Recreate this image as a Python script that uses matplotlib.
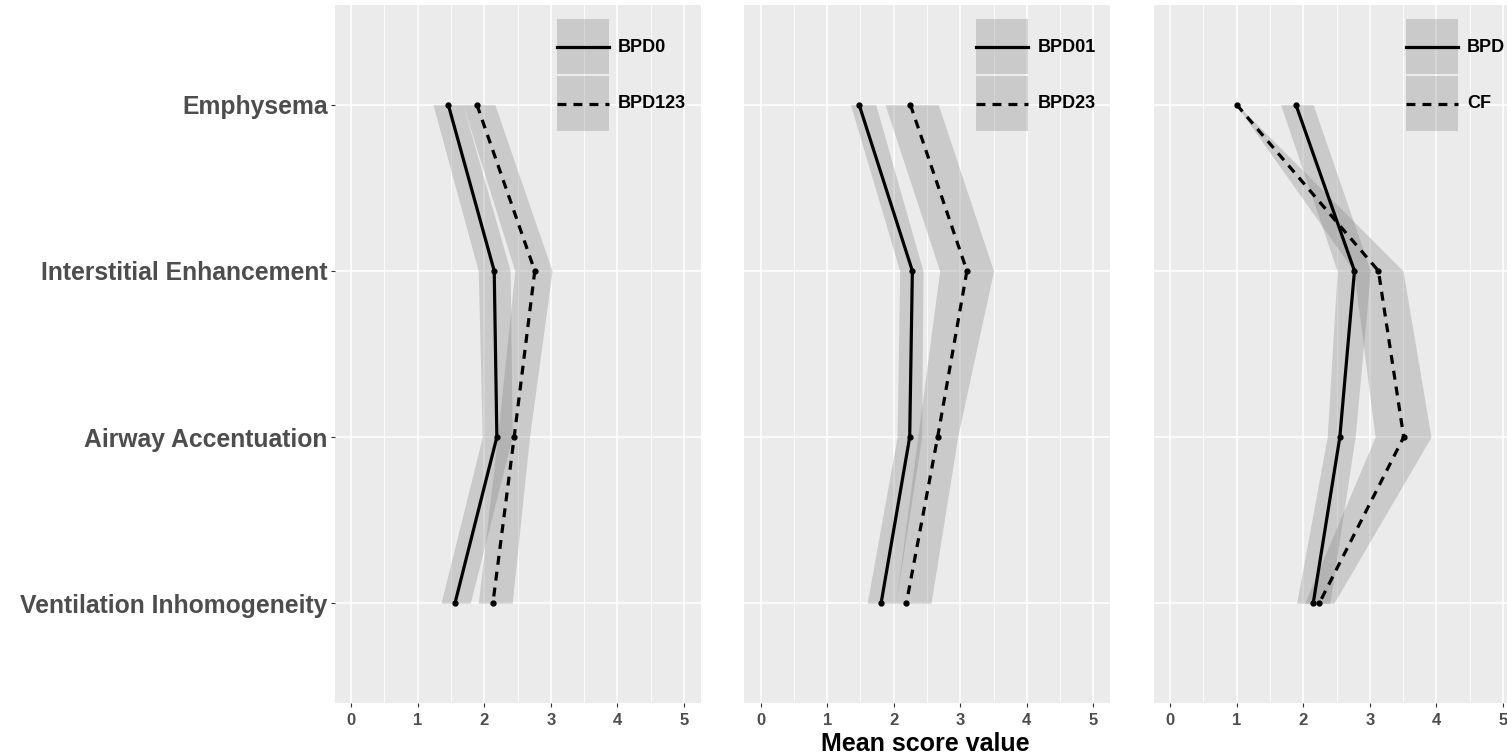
"""Mean score profiles per group: BPD grades and CF, three side-by-side panels."""

import matplotlib.pyplot as plt
from matplotlib.patches import Patch
from matplotlib.lines import Line2D
from matplotlib.legend_handler import HandlerTuple, HandlerLine2D
import numpy as np

# Data
categories = ["Emphysema", "Interstitial Enhancement", "Airway Accentuation",
              "Ventilation Inhomogeneity"]
x_ticks = [0, 1, 2, 3, 4, 5]

# panel 1
p1_labels = ["BPD0", "BPD123"]
p1_mean_a = [1.46, 2.15, 2.19, 1.56]
p1_low_a = [1.23, 1.91, 1.97, 1.35]
p1_high_a = [1.68, 2.39, 2.42, 1.79]
p1_mean_b = [1.89, 2.76, 2.45, 2.13]
p1_low_b = [1.68, 2.46, 2.20, 1.91]
p1_high_b = [2.16, 3.02, 2.68, 2.42]

# panel 2
p2_labels = ["BPD01", "BPD23"]
p2_mean_a = [1.48, 2.28, 2.24, 1.81]
p2_low_a = [1.35, 2.09, 2.05, 1.60]
p2_high_a = [1.73, 2.44, 2.42, 2.03]
p2_mean_b = [2.25, 3.10, 2.66, 2.19]
p2_low_b = [1.87, 2.69, 2.36, 2.03]
p2_high_b = [2.67, 3.50, 2.96, 2.56]

# panel 3
p3_labels = ["BPD", "CF"]
p3_mean_a = [1.89, 2.77, 2.55, 2.15]
p3_low_a = [1.66, 2.51, 2.36, 1.90]
p3_high_a = [2.15, 3.01, 2.78, 2.40]
p3_mean_b = [1.00, 3.13, 3.51, 2.24]
p3_low_b = [0.99, 2.76, 3.08, 2.02]
p3_high_b = [1.01, 3.50, 3.92, 2.46]

BG = "#EBEBEB"
RIBBON = dict(color="#7F7F7F", alpha=0.3, linewidth=0)
AXIS_GREY = "#4D4D4D"
LW = 2.3
DASH = (0, (2.8, 2.2))

plt.rcParams.update({
    "font.family": ["Liberation Sans", "DejaVu Sans"],
    "figure.facecolor": "white",
})


class CenteredLine(HandlerLine2D):
    """Legend line centred on the key box (ggplot-style key), slightly inset."""

    def create_artists(self, legend, orig_handle, xdescent, ydescent,
                       width, height, fontsize, trans):
        artists = super().create_artists(legend, orig_handle, xdescent, ydescent,
                                         width, height, fontsize, trans)
        inset = 0.06 * width
        for a in artists:
            xd = a.get_xdata()
            if len(xd) == 2:
                a.set_xdata([-xdescent + inset, -xdescent + width - inset])
            a.set_ydata(np.full(len(a.get_xdata()), height / 2 - ydescent))
        return artists


W, H = 1507, 753
fig = plt.figure(figsize=(W / 100, H / 100), dpi=100)

panels = [
    (p1_labels, p1_mean_a, p1_low_a, p1_high_a, p1_mean_b, p1_low_b, p1_high_b),
    (p2_labels, p2_mean_a, p2_low_a, p2_high_a, p2_mean_b, p2_low_b, p2_high_b),
    (p3_labels, p3_mean_a, p3_low_a, p3_high_a, p3_mean_b, p3_low_b, p3_high_b),
]
lefts = [334.5, 744.0, 1153.5]
pw, bottom, top = 366.0, 703.0, 5.0

y = np.arange(len(categories))
axes = []
for i, (labels, ma, la, ha, mb, lb, hb) in enumerate(panels):
    ax = fig.add_axes([lefts[i] / W, (H - bottom) / H, pw / W, (bottom - top) / H])
    axes.append(ax)
    ax.set_facecolor(BG)
    for s in ax.spines.values():
        s.set_visible(False)

    ax.fill_betweenx(y, la, ha, **RIBBON)
    ax.fill_betweenx(y, lb, hb, **RIBBON)
    ax.plot(ma, y, color="black", lw=LW, marker="o", ms=3.5, solid_capstyle="butt")
    ax.plot(mb, y, color="black", lw=LW, ls=DASH, marker="o", ms=3.5)

    ax.set_xlim(-0.25, 5.25)
    ax.set_ylim(len(categories) - 1 + 0.6, -0.6)
    ax.set_xticks(x_ticks)
    ax.set_xticks(np.arange(0.5, 5.5, 1.0), minor=True)
    ax.set_xticklabels([str(t) for t in x_ticks], color=AXIS_GREY,
                       fontsize=12, fontweight="bold")
    ax.set_yticks(y)
    ax.grid(which="major", color="white", lw=1.1)
    ax.grid(which="minor", axis="x", color="white", lw=0.6)
    ax.set_axisbelow(True)
    ax.tick_params(axis="x", which="major", length=3, color="#333333", pad=4)
    ax.tick_params(axis="x", which="minor", length=0)
    if i == 0:
        ax.set_yticklabels(categories, color=AXIS_GREY, fontsize=17.8,
                           fontweight="bold")
        ax.tick_params(axis="y", length=3, color="#333333", pad=2)
    else:
        ax.tick_params(axis="y", length=0, labelleft=False)

    key_a = (Patch(facecolor="#7F7F7F", alpha=0.3, edgecolor="none"),
             Line2D([], [], color="black", lw=LW))
    key_b = (Patch(facecolor="#7F7F7F", alpha=0.3, edgecolor="none"),
             Line2D([], [], color="black", lw=LW, ls=DASH))
    ax.legend([key_a, key_b], labels,
              handler_map={tuple: HandlerTuple(ndivide=1), Line2D: CenteredLine()},
              loc="upper right", frameon=False,
              prop={"weight": "bold", "size": 13},
              handlelength=2.9, handleheight=4.3, handletextpad=0.5,
              labelspacing=0.1, borderaxespad=0.6, borderpad=0.2)

fig.text(925 / W, 1 - 744 / H, "Mean score value", ha="center", va="center",
         fontsize=18, fontweight="bold", color="black")

fig.savefig("out.png", dpi=100)
